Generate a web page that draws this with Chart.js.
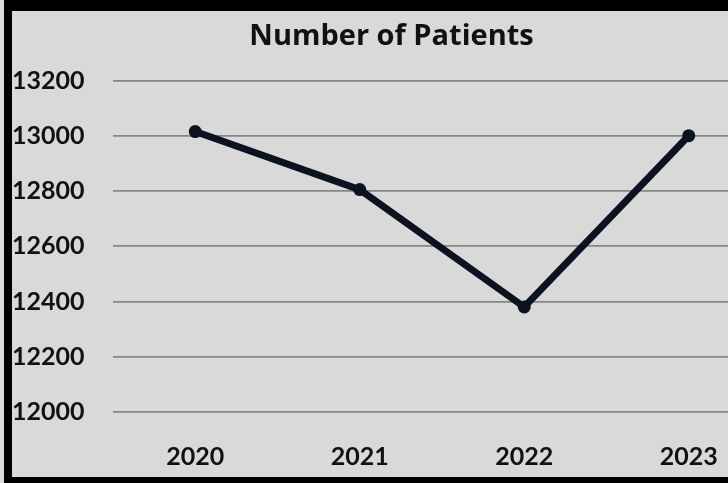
<!DOCTYPE html>
<html><head><meta charset="utf-8">
<script src="https://cdn.jsdelivr.net/npm/chart.js@4"></script>
<style>
html,body{margin:0;padding:0;width:728px;height:483px;overflow:hidden;background:#000;}
#strip{position:absolute;left:0;top:0;width:4px;height:483px;background:#d9d9d9;}
#wrap{position:absolute;left:12px;top:11px;width:766px;height:466px;background:#d9d9d9;}
</style></head>
<body>
<div id="strip"></div>
<div id="wrap"><canvas id="c" width="766" height="466"></canvas></div>
<script>
const categories = ["2020", "2021", "2022", "2023"];
const patients = [13015, 12805, 12380, 13000];
const yMin = 12000, yMax = 13200, yStep = 200;
const titleText = "Number of Patients";

const FONT = "Lato, 'Open Sans', sans-serif";
new Chart(document.getElementById('c'), {
  type: 'line',
  data: {
    labels: categories,
    datasets: [{
      data: patients,
      borderColor: '#0d1220',
      backgroundColor: '#0d1220',
      borderWidth: 7,
      pointRadius: 6.5,
      pointBorderWidth: 0,
      tension: 0
    }]
  },
  options: {
    responsive: false,
    animation: false,
    layout: {padding: {left: 0, right: 7, top: 0, bottom: 0}},
    plugins: {
      legend: {display: false},
      tooltip: {enabled: false},
      title: {
        display: true, text: titleText, color: '#111',
        font: {family: "'Open Sans', sans-serif", size: 29, weight: 'bold', lineHeight: 1.05},
        padding: {top: 11, bottom: 28}
      }
    },
    scales: {
      x: {
        offset: true,
        grid: {display: false},
        border: {display: false},
        ticks: {color: '#111', font: {family: FONT, size: 25, weight: 'bold'}, padding: 22, maxRotation: 0},
        afterFit: s => { s.height = 65; }
      },
      y: {
        min: yMin, max: yMax,
        grid: {color: '#868686', lineWidth: 1.8, drawTicks: false},
        border: {display: false},
        ticks: {stepSize: yStep, color: '#111', crossAlign: 'far', padding: 0,
          callback: v => String(v),
          font: {family: FONT, size: 25, weight: 'bold'}},
        afterFit: s => { s.width = 101; }
      }
    }
  }
});
</script>
</body></html>
